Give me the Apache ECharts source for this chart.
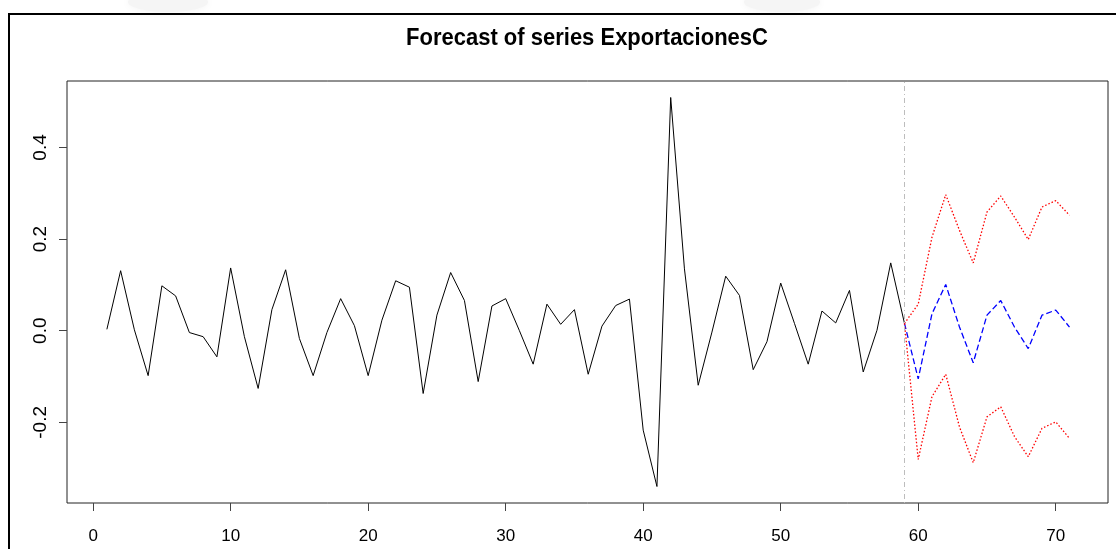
<!DOCTYPE html>
<html>
<head>
<meta charset="utf-8">
<title>Forecast of series ExportacionesC</title>
<script src="https://cdn.jsdelivr.net/npm/echarts@6/dist/echarts.min.js"></script>
<style>
  html, body { margin: 0; padding: 0; background: #ffffff; }
  #chart { width: 1116px; height: 549px; }
</style>
</head>
<body>
<div id="chart"></div>
<script>
// Observed series, periods 1..59
const observedStart = 1;
const observed = [
  0.003, 0.131, 0.002, -0.098, 0.098, 0.076, -0.004, -0.013, -0.057, 0.137,
  -0.013, -0.126, 0.046, 0.133, -0.017, -0.098, -0.004, 0.070, 0.011, -0.098,
  0.023, 0.109, 0.095, -0.137, 0.034, 0.127, 0.066, -0.111, 0.054, 0.070,
  0.000, -0.073, 0.058, 0.014, 0.046, -0.095, 0.010, 0.055, 0.069, -0.217,
  -0.340, 0.509, 0.135, -0.119, -0.003, 0.119, 0.077, -0.085, -0.024, 0.104,
  0.016, -0.073, 0.043, 0.017, 0.088, -0.090, 0.001, 0.148, 0.016
];

// Forecast and confidence bounds, periods 59..71 (anchored at last observation)
const forecastStart = 59;
const forecast = [0.016, -0.105, 0.037, 0.101, 0.008, -0.070, 0.034, 0.066, 0.008, -0.039, 0.034, 0.045, 0.008];
const upper    = [0.016, 0.058, 0.204, 0.297, 0.219, 0.148, 0.259, 0.294, 0.248, 0.199, 0.270, 0.284, 0.252];
const lower    = [0.016, -0.281, -0.144, -0.095, -0.210, -0.288, -0.188, -0.166, -0.231, -0.275, -0.213, -0.199, -0.235];

// Axis tick values
const xTicks = [0, 10, 20, 30, 40, 50, 60, 70];
const yTicks = [-0.2, 0.0, 0.2, 0.4];
const forecastOrigin = 59;

const pairs = (start, vals) => vals.map((v, i) => [start + i, v]);

const FONT = '"Liberation Sans", Arial, sans-serif';

const chart = echarts.init(document.getElementById('chart'), null, { renderer: 'canvas' });

chart.setOption({
  animation: false,
  backgroundColor: '#ffffff',
  grid: {
    left: 67, right: 8, top: 81, bottom: 46,
    containLabel: false,
    outerBoundsMode: 'none',
    show: true,
    borderColor: '#222222',
    borderWidth: 1,
    backgroundColor: 'transparent'
  },
  xAxis: {
    type: 'value',
    position: 'bottom',
    min: -1.9,
    max: 73.8,
    splitLine: { show: false },
    axisLine: { show: false, onZero: false },
    axisTick: {
      show: true, inside: false, length: 8,
      customValues: xTicks,
      lineStyle: { color: '#444444', width: 1 }
    },
    axisLabel: {
      show: true,
      customValues: xTicks,
      margin: 25,
      fontSize: 17,
      fontFamily: FONT,
      color: '#000000',
      formatter: v => String(v)
    }
  },
  yAxis: {
    type: 'value',
    position: 'left',
    min: -0.376,
    max: 0.545,
    splitLine: { show: false },
    axisLine: { show: false, onZero: false },
    axisTick: {
      show: true, inside: false, length: 8,
      customValues: yTicks,
      lineStyle: { color: '#444444', width: 1 }
    },
    axisLabel: {
      show: true,
      customValues: yTicks,
      rotate: 90,
      margin: 17,
      fontSize: 19,
      fontFamily: FONT,
      color: '#000000',
      formatter: v => v.toFixed(1)
    }
  },
  series: [
    {
      name: 'ExportacionesC',
      type: 'line',
      data: pairs(observedStart, observed),
      symbol: 'none',
      lineStyle: { color: '#000000', width: 1 },
      z: 3,
      markLine: {
        silent: true,
        symbol: 'none',
        label: { show: false },
        lineStyle: { color: '#bdbdbd', width: 1, type: [1, 3, 5, 3] },
        data: [{ xAxis: forecastOrigin }]
      }
    },
    {
      name: 'fcst',
      type: 'line',
      data: pairs(forecastStart, forecast),
      symbol: 'none',
      lineStyle: { color: '#0000ff', width: 1.3, type: [6, 3] },
      z: 4
    },
    {
      name: 'upper',
      type: 'line',
      data: pairs(forecastStart, upper),
      symbol: 'none',
      lineStyle: { color: '#ff0000', width: 1.3, type: [1.5, 2] },
      z: 4
    },
    {
      name: 'lower',
      type: 'line',
      data: pairs(forecastStart, lower),
      symbol: 'none',
      lineStyle: { color: '#ff0000', width: 1.3, type: [1.5, 2] },
      z: 4
    }
  ],
  graphic: [
    // faint emblem shapes along the top edge of the page
    {
      type: 'ellipse', silent: true, z: 0,
      shape: { cx: 168, cy: 2, rx: 40, ry: 10 },
      style: { fill: '#f5f5f5', shadowBlur: 8, shadowColor: '#f3f3f3' }
    },
    {
      type: 'ellipse', silent: true, z: 0,
      shape: { cx: 782, cy: 2, rx: 38, ry: 10 },
      style: { fill: '#f5f5f5', shadowBlur: 8, shadowColor: '#f3f3f3' }
    },
    // page frame
    {
      type: 'polyline', silent: true, z: 10,
      shape: { points: [[9, 549], [9, 14], [1116, 14]] },
      style: { stroke: '#000000', lineWidth: 2, fill: null }
    },
    // chart heading
    {
      type: 'text', silent: true, z: 10,
      x: 587, y: 38, scaleY: 1.1,
      style: {
        text: 'Forecast of series ExportacionesC',
        font: 'bold 22px ' + FONT,
        fill: '#000000',
        textAlign: 'center',
        textVerticalAlign: 'middle'
      }
    }
  ]
});
</script>
</body>
</html>
